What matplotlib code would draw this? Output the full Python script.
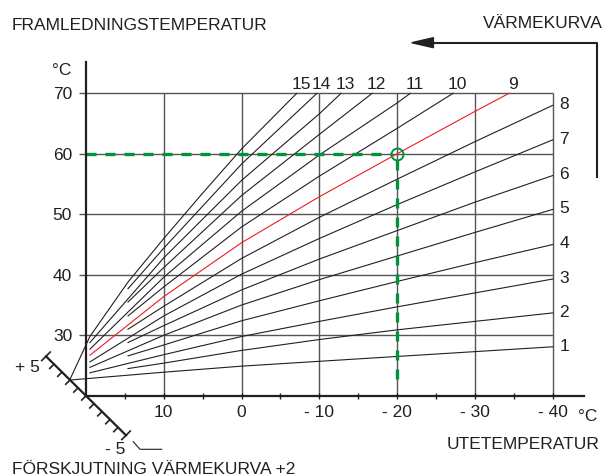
import matplotlib
matplotlib.use("Agg")
import matplotlib.pyplot as plt
from matplotlib.lines import Line2D
from matplotlib.patches import Polygon

plt.rcParams['font.family'] = ['Liberation Sans', 'DejaVu Sans']

W, H = 607, 476
TXT = '#231f20'
GRID = '#555555'
GREEN = '#00933b'
RED = '#ec1c24'
FS = 12.5

# outdoor temperature axis (runs from +20 at the left to -40)
x_major = [10, 0, -10, -20, -30, -40]
x_major_labels = ['10', '0', '- 10', '- 20', '- 30', '- 40']
x_minor = [15, 5, -5, -15, -25, -35]
# flow temperature axis
y_major = [30, 40, 50, 60, 70]
y_major_labels = ['30', '40', '50', '60', '70']

# heating curves (outdoor temp -> flow temp)
x1 = [22.1, 10, 0, -10, -20, -30, -40]
y1 = [22.6, 23.9, 24.9, 25.7, 26.5, 27.3, 28.1]
x2 = [14.6, 10, 0, -10, -20, -30, -40]
y2 = [24.5, 25.4, 27.5, 29.3, 30.9, 32.3, 33.7]
x3 = [19.5, 10, 0, -10, -20, -30, -40]
y3 = [23.8, 26.8, 29.8, 32.3, 34.7, 37.0, 39.3]
x4 = [14.6, 10, 0, -10, -20, -30, -40]
y4 = [26.6, 28.4, 32.4, 35.7, 38.9, 42.0, 45.0]
x5 = [19.5, 10, 0, -10, -20, -30, -40]
y5 = [24.7, 30.0, 35.0, 39.2, 43.1, 47.0, 50.8]
x6 = [14.6, 10, 0, -10, -20, -30, -40]
y6 = [28.8, 31.6, 37.5, 42.6, 47.3, 52.0, 56.4]
x7 = [19.5, 10, 0, -10, -20, -30, -40]
y7 = [25.6, 33.2, 40.1, 46.0, 51.6, 57.0, 62.3]
x8 = [14.6, 10, 0, -10, -20, -30, -40]
y8 = [31.0, 34.8, 42.7, 49.5, 55.8, 62.0, 68.0]
x9 = [19.5, 10, 0, -10, -20, -30, -34.4]
y9 = [26.7, 36.4, 45.3, 52.9, 60.0, 67.0, 70.0]
x10 = [14.6, 10, 0, -10, -20, -27.2]
y10 = [33.2, 38.0, 47.9, 56.3, 64.2, 70.0]
x11 = [19.5, 10, 0, -10, -20, -21.7]
y11 = [27.7, 39.6, 50.5, 59.8, 68.4, 70.0]
x12 = [14.6, 10, 0, -10, -16.8]
y12 = [35.5, 41.2, 53.1, 63.2, 70.0]
x13 = [19.5, 10, 0, -10, -12.8]
y13 = [28.8, 42.8, 55.6, 66.6, 70.0]
x14 = [14.6, 10, 0, -9.7]
y14 = [37.7, 44.4, 58.3, 70.0]
x15 = [22.1, 19.5, 14.6, 10, 5, 0, -7.1]
y15 = [22.6, 29.8, 38.8, 46.0, 53.5, 60.8, 70.0]

selected_curve = 9
example_out = -20   # outdoor temperature
example_flow = 60   # flow temperature
curve_shift = 2     # FÖRSKJUTNING +2
shift_range = list(range(-5, 6))

curves = [(1, x1, y1), (2, x2, y2), (3, x3, y3), (4, x4, y4), (5, x5, y5),
          (6, x6, y6), (7, x7, y7), (8, x8, y8), (9, x9, y9), (10, x10, y10),
          (11, x11, y11), (12, x12, y12), (13, x13, y13), (14, x14, y14),
          (15, x15, y15)]


def fpx(x, y):
    # pixel position (from top-left) -> figure fraction
    return x / W, 1 - y / H


fig = plt.figure(figsize=(W / 100, H / 100), dpi=100)
ax = fig.add_axes([86 / W, 1 - 395.8 / H, 498 / W, (395.8 - 62) / H])
ax.set_xlim(20, -44.03)
ax.set_ylim(20, 75.17)
for s in ['top', 'right']:
    ax.spines[s].set_visible(False)
for s in ['left', 'bottom']:
    ax.spines[s].set_linewidth(1.6)
    ax.spines[s].set_color(TXT)
    ax.spines[s].set_zorder(5)

ax.set_xticks(x_major, x_major_labels)
ax.set_xticks(x_minor, minor=True)
ax.set_yticks(y_major, y_major_labels)
ax.tick_params(axis='x', which='both', direction='inout', length=5, width=1,
               color=TXT, pad=4, labelsize=FS, labelcolor=TXT)
ax.tick_params(axis='y', direction='out', length=5, width=1, color=GRID,
               pad=5, labelsize=FS, labelcolor=TXT)

# grid box
ax.hlines(y_major, 20, -40, colors=GRID, lw=1, zorder=1)
ax.vlines(x_major, 20, 70, colors=GRID, lw=1, zorder=1)

# heating curves
for n, xs, ys in curves:
    c = RED if n == selected_curve else TXT
    ax.plot(xs, ys, color=c, lw=0.8, zorder=3, clip_on=False)
    if ys[-1] >= 70:
        ax.text(xs[-1] - 0.55, ys[-1] + 0.66, str(n), ha='center',
                va='baseline', fontsize=FS, color=TXT)
    else:
        ax.text(xs[-1] - 0.85, ys[-1] + 0.35, str(n), ha='left',
                va='center_baseline', fontsize=FS, color=TXT)

# example reading
dash = dict(color=GREEN, lw=2.4, dashes=(3.0, 2.7), zorder=4,
            solid_capstyle='butt', dash_capstyle='butt')
ax.plot([20, example_out + 0.8], [example_flow, example_flow], **dash)
ax.plot([example_out, example_out], [example_flow - 1.0, 21.3], **dash)
ax.plot([example_out], [example_flow], 'o', ms=8.6, mfc='none', mec=GREEN,
        mew=1.4, zorder=6)

# curve shift scale (diagonal through the axis origin)
ux, uy = 1.029, 1.306          # one step along the scale, data units
tx, ty = 0.545, -0.70          # tick direction (down-left)
sx = [20 + shift_range[0] * ux, 20 + shift_range[-1] * ux]
sy = [20 + shift_range[0] * uy, 20 + shift_range[-1] * uy]
ax.plot(sx, sy, color=TXT, lw=1.6, clip_on=False, zorder=5)
for k in shift_range:
    cx, cy = 20 + k * ux, 20 + k * uy
    a = -1 if abs(k) == 5 else 0
    ax.plot([cx + a * tx, cx + tx], [cy + a * ty, cy + ty], color=TXT,
            lw=1.2, clip_on=False, zorder=5)

# texts around the chart
tk = dict(fontsize=FS, color=TXT, transform=fig.transFigure)
fig.text(*fpx(11.7, 30), 'FRAMLEDNINGSTEMPERATUR', ha='left', va='baseline', **tk)
fig.text(*fpx(602.7, 28), 'VÄRMEKURVA', ha='right', va='baseline', **tk)
fig.text(*fpx(71.7, 75), '°C', ha='right', va='baseline', **tk)
fig.text(*fpx(578, 420.7), '°C', ha='left', va='baseline', **tk)
fig.text(*fpx(599.3, 449), 'UTETEMPERATUR', ha='right', va='baseline', **tk)
fig.text(*fpx(11.7, 474), 'FÖRSKJUTNING VÄRMEKURVA +' + str(curve_shift),
         ha='left', va='baseline', **tk)
fig.text(*fpx(27.5, 371.7), '+ 5', ha='center', va='baseline', **tk)
fig.text(*fpx(115.5, 453.5), '- 5', ha='center', va='baseline', **tk)

# leader next to "- 5"
lx, ly = zip(fpx(133.3, 441.7), fpx(140, 449.3), fpx(161.7, 449.3))
fig.add_artist(Line2D(lx, ly, color=TXT, lw=0.8, transform=fig.transFigure))

# arrow pointing towards the curve labels
ax_x, ax_y = zip(fpx(596.7, 176.7), fpx(596.7, 42.7), fpx(431, 42.7))
fig.add_artist(Line2D(ax_x, ax_y, color=TXT, lw=1.5, transform=fig.transFigure))
fig.add_artist(Polygon([fpx(411.7, 42.7), fpx(433.4, 37.7), fpx(433.4, 47.7)],
                       closed=True, color=TXT, transform=fig.transFigure))

fig.savefig('out.png', dpi=100)
